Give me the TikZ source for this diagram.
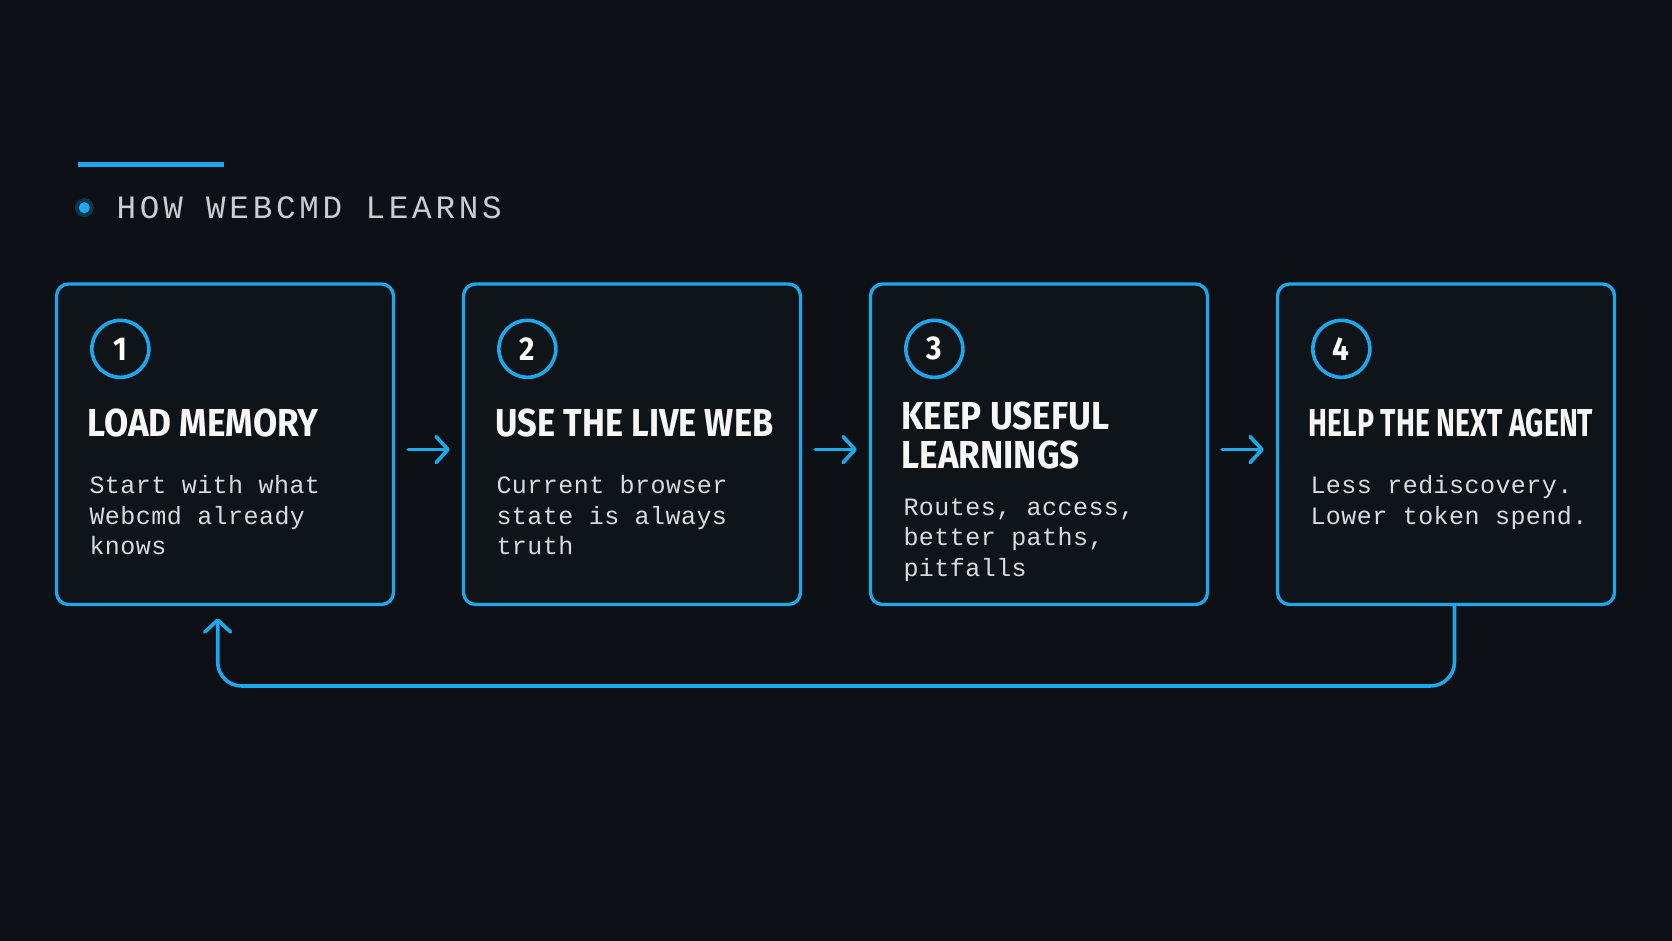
\documentclass[tikz,border=0pt]{standalone}
\usepackage{fontspec}
\usepackage{graphicx}
\setmainfont{Liberation Sans}
\newfontfamily\monofont[LetterSpace=1.8]{Liberation Mono}
\newfontfamily\headfont[LetterSpace=11.5]{Liberation Mono}
\newfontfamily\titlefont[FakeStretch=0.9]{Fira Sans}
\usetikzlibrary{arrows.meta,calc}
\definecolor{cbg}{RGB}{13,16,20}
\definecolor{cbox}{RGB}{15,20,25}
\definecolor{cblue}{RGB}{28,168,236}
\definecolor{chalo}{RGB}{16,52,74}
\definecolor{chead}{RGB}{200,205,214}
\definecolor{ctitle}{RGB}{246,246,246}
\definecolor{cbody}{RGB}{215,218,224}
\tikzset{
  box/.style={draw=cblue, line width=3.3pt, rounded corners=12pt, fill=cbox,
    minimum width=337pt, minimum height=320.5pt, inner sep=0pt},
  num/.style={circle, draw=cblue, line width=3.6pt, minimum size=57pt, inner sep=0pt,
    text=white, font=\titlefont\bfseries\fontsize{33}{33}\selectfont},
  ttl/.style={anchor=base west, inner sep=0pt, text=ctitle,
    font=\titlefont\bfseries\fontsize{39}{39}\selectfont},
  bodytxt/.style={anchor=base west, inner sep=0pt, text=cbody,
    font=\monofont\fontsize{25}{30.5}\selectfont},
  arr/.style={draw=cblue, line width=3.6pt, line cap=round,
    -{Straight Barb[length=12pt,width=26pt,line cap=round,line join=round]}},
}
\newcommand{\mylines}[2]{\parbox[t]{#1}{\raggedright #2}}
\begin{document}
\begin{tikzpicture}[x=1pt,y=-1pt]
\useasboundingbox (0,0) rectangle (1672,941);
\fill[cbg] (0,0) rectangle (1672,941);
% header
\coordinate (hl1) at (77.7,164.7);
\coordinate (hl2) at (224,164.7);
\draw[cblue, line width=4.5pt] (hl1) -- (hl2);
\node[circle, fill=chalo, minimum size=19pt, inner sep=0pt] (halo) at (84.3,207.7) {};
\node[circle, fill=cblue, minimum size=11pt, inner sep=0pt] (dot) at (halo) {};
\node[anchor=base west, inner sep=0pt, text=chead, font=\headfont\fontsize{32.6}{32.6}\selectfont] (head) at (116.5,218.3) {HOW WEBCMD LEARNS};
% boxes
\node[box] (b1) at (225,444.25) {};
\node[box] (b2) at (632,444.25) {};
\node[box] (b3) at (1039,444.25) {};
\node[box] (b4) at (1446,444.25) {};
% numbers
\node[num] (n1) at ($(b1.north west)+(65.5,66.5)$) {1};
\node[num] (n2) at ($(b2.north west)+(65.5,66.5)$) {2};
\node[num] (n3) at ($(b3.north west)+(65.5,66.5)$) {3};
\node[num] (n4) at ($(b4.north west)+(65.5,66.5)$) {4};
% titles
\node[ttl] (t1) at ($(b1.north west)+(32.5,154.5)$) {LOAD MEMORY};
\node[ttl] (t2) at ($(b2.north west)+(33.5,154.5)$) {\scalebox{0.98}[1]{USE THE LIVE WEB}};
\node[ttl] (t3) at ($(b3.north west)+(32.5,147)$) {\mylines{320pt}{\fontsize{39}{39}\selectfont KEEP USEFUL\\LEARNINGS}};
\node[ttl] (t4) at ($(b4.north west)+(32.5,154.5)$) {\scalebox{0.81}[1]{HELP THE NEXT AGENT}};
% body
\node[bodytxt] (d1) at ($(b1.north west)+(34.5,211.5)$) {\mylines{320pt}{Start with what\\Webcmd already\\knows}};
\node[bodytxt] (d2) at ($(b2.north west)+(34.5,211.5)$) {\mylines{320pt}{Current browser\\state is always\\truth}};
\node[bodytxt] (d3) at ($(b3.north west)+(34.5,233)$) {\mylines{320pt}{Routes, access,\\better paths,\\pitfalls}};
\node[bodytxt] (d4) at ($(b4.north west)+(34.5,211.5)$) {\mylines{320pt}{Less rediscovery.\\Lower token spend.}};
% arrows
\draw[arr] ([xshift=13pt,yshift=-5.3pt]b1.east) -- ([xshift=-12pt,yshift=-5.3pt]b2.west);
\draw[arr] ([xshift=13pt,yshift=-5.3pt]b2.east) -- ([xshift=-12pt,yshift=-5.3pt]b3.west);
\draw[arr] ([xshift=13pt,yshift=-5.3pt]b3.east) -- ([xshift=-12pt,yshift=-5.3pt]b4.west);
% feedback loop
\coordinate (fbR) at (1454.5,686);
\coordinate (fbL) at (217.7,686);
\coordinate (fbT) at (217.7,618.3);
\draw[arr, rounded corners=24pt] (b4.south -| fbR) -- (fbR) -- (fbL) -- (fbT);
\end{tikzpicture}
\end{document}
